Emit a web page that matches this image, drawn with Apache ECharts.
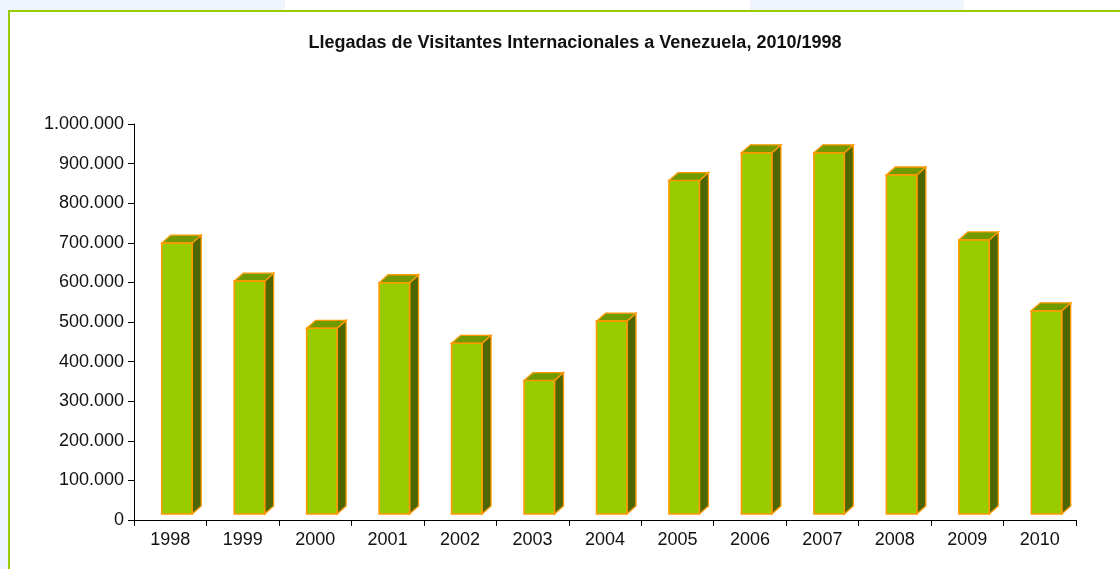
<!DOCTYPE html>
<html>
<head>
<meta charset="utf-8">
<script src="https://cdn.jsdelivr.net/npm/echarts@6/dist/echarts.min.js"></script>
<style>
html, body { margin: 0; padding: 0; background: #fff; }
#chart { width: 1120px; height: 569px; }
</style>
</head>
<body>
<div id="chart"></div>
<script>
var years = ['1998', '1999', '2000', '2001', '2002', '2003', '2004', '2005', '2006', '2007', '2008', '2009', '2010'];
var visitors = [684000, 588000, 469000, 584000, 431000, 337000, 487000, 842000, 912000, 912000, 856000, 692000, 513000];

var myChart = echarts.init(document.getElementById('chart'));

// 3d look: front face, dark side and top cap
var depthX = 9, depthY = 8, lift = 6;

function renderBar(params, api) {
    var idx = api.value(0);
    var top = api.coord([idx, api.value(1)]);
    var base = api.coord([idx, 0]);
    var band = api.size([1, 0])[0];
    var x0 = top[0] - band * 0.117;
    var w = band * 0.42;
    var y0 = top[1] - lift;
    var y1 = base[1] - lift;
    return {
        type: 'group',
        children: [
            {
                type: 'polygon',
                shape: {points: [[x0 + w, y0], [x0 + w + depthX, y0 - depthY], [x0 + w + depthX, y1 - depthY], [x0 + w, y1]]},
                style: {fill: '#4d6600', stroke: '#ff9900', lineWidth: 1.3}
            },
            {
                type: 'polygon',
                shape: {points: [[x0, y0], [x0 + depthX, y0 - depthY], [x0 + w + depthX, y0 - depthY], [x0 + w, y0]]},
                style: {fill: '#719a00', stroke: '#ff9900', lineWidth: 1.3}
            },
            {
                type: 'rect',
                shape: {x: x0, y: y0, width: w, height: y1 - y0},
                style: {fill: '#99cc00', stroke: '#ff9900', lineWidth: 1.6}
            }
        ]
    };
}

option = {
    backgroundColor: '#fff',
    animation: false,
    title: {
        text: 'Llegadas de Visitantes Internacionales a Venezuela, 2010/1998',
        left: 570,
        textAlign: 'center',
        top: 29,
        textStyle: {
            color: '#111',
            fontFamily: 'Liberation Sans, Arial',
            fontSize: 18,
            fontWeight: 'bold'
        }
    },
    graphic: [
        {type: 'rect', left: 0, top: 0, shape: {width: 8, height: 569}, style: {fill: '#f0f4fc'}, silent: true},
        {type: 'rect', left: 0, top: 0, shape: {width: 285, height: 10}, style: {fill: '#f0f4fc'}, silent: true},
        {type: 'rect', left: 750, top: 0, shape: {width: 214, height: 10}, style: {fill: '#f0f4fc'}, silent: true},
        {type: 'line', shape: {x1: 8, y1: 11, x2: 1120, y2: 11}, style: {stroke: '#99cc00', lineWidth: 2}, silent: true},
        {type: 'line', shape: {x1: 9, y1: 10, x2: 9, y2: 569}, style: {stroke: '#99cc00', lineWidth: 2}, silent: true}
    ],
    grid: {
        left: 134,
        right: 44,
        top: 124,
        bottom: 49
    },
    xAxis: {
        type: 'category',
        data: years,
        axisLine: {lineStyle: {color: '#000', width: 1}},
        axisTick: {show: true, length: 6, lineStyle: {color: '#000'}},
        axisLabel: {
            color: '#111',
            fontFamily: 'Liberation Sans, Arial',
            fontSize: 18,
            margin: 11
        },
        splitLine: {show: false}
    },
    yAxis: {
        type: 'value',
        min: 0,
        max: 1000000,
        interval: 100000,
        axisLine: {show: true, lineStyle: {color: '#000', width: 1}},
        axisTick: {show: true, length: 6, lineStyle: {color: '#000'}},
        axisLabel: {
            color: '#111',
            fontFamily: 'Liberation Sans, Arial',
            fontSize: 18,
            margin: 10,
            formatter: function (v) {
                return String(v).replace(/\B(?=(\d{3})+(?!\d))/g, '.');
            }
        },
        splitLine: {show: false}
    },
    series: [
        {
            type: 'custom',
            renderItem: renderBar,
            encode: {x: 0, y: 1},
            data: visitors.map(function (v, i) { return [i, v]; })
        }
    ]
};

myChart.setOption(option);
</script>
</body>
</html>
